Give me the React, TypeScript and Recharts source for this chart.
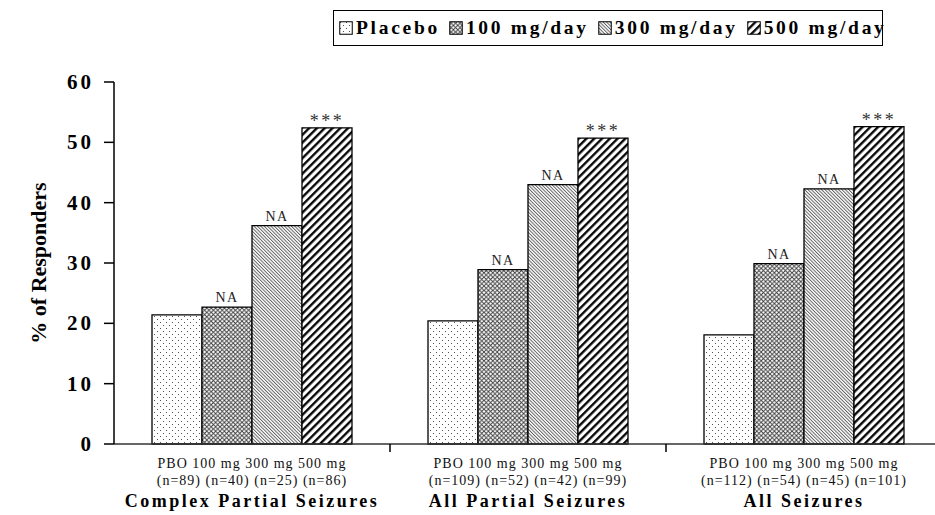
import React from 'react';
import { BarChart, Bar, XAxis, YAxis, LabelList } from 'recharts';

const categories = ['Complex Partial Seizures', 'All Partial Seizures', 'All Seizures'];
const doseLabels = ['PBO 100 mg 300 mg 500 mg', 'PBO 100 mg 300 mg 500 mg', 'PBO 100 mg 300 mg 500 mg'];
const sampleSizes = [
  '(n=89) (n=40) (n=25) (n=86)',
  '(n=109) (n=52) (n=42) (n=99)',
  '(n=112) (n=54) (n=45) (n=101)',
];
const placebo = [21.4, 20.4, 18.1];
const dose100 = [22.7, 28.9, 29.9];
const dose300 = [36.2, 43.0, 42.3];
const dose500 = [52.4, 50.7, 52.6];
const marks100 = ['NA', 'NA', 'NA'];
const marks300 = ['NA', 'NA', 'NA'];
const marks500 = ['***', '***', '***'];
const yTicks = [0, 10, 20, 30, 40, 50, 60];
const seriesNames = ['Placebo', '100 mg/day', '300 mg/day', '500 mg/day'];
const patternIds = ['pDots', 'pCross', 'pFine', 'pBold'];

const data = categories.map((c, i) => ({
  name: c,
  placebo: placebo[i],
  d100: dose100[i],
  d300: dose300[i],
  d500: dose500[i],
  m100: marks100[i],
  m300: marks300[i],
  m500: marks500[i],
}));

const serif = '"Liberation Serif", "Times New Roman", serif';

const Patterns = () => (
  <svg width={0} height={0} style={{ position: 'absolute' }}>
    <defs>
      <pattern id="pDots" width={6} height={6} patternUnits="userSpaceOnUse">
        <rect width={6} height={6} fill="#fff" />
        <rect x={1} y={1} width={1} height={1} fill="#555" />
        <rect x={4} y={4} width={1} height={1} fill="#555" />
      </pattern>
      <pattern id="pCross" width={4.4} height={4.4} patternUnits="userSpaceOnUse">
        <rect width={4.4} height={4.4} fill="#fff" />
        <path d="M0,0 L4.4,4.4 M4.4,0 L0,4.4" stroke="#3a3a3a" strokeWidth={0.9} />
      </pattern>
      <pattern id="pFine" width={2.4} height={2.4} patternUnits="userSpaceOnUse" patternTransform="rotate(-45)">
        <rect width={2.4} height={2.4} fill="#fff" />
        <line x1={0.5} y1={0} x2={0.5} y2={2.4} stroke="#555" strokeWidth={0.9} />
      </pattern>
      <pattern id="pBold" width={5.5} height={5.5} patternUnits="userSpaceOnUse" patternTransform="rotate(45)">
        <rect width={5.5} height={5.5} fill="#fff" />
        <line x1={1.2} y1={0} x2={1.2} y2={5.5} stroke="#000" strokeWidth={2.3} />
      </pattern>
    </defs>
  </svg>
);

const LegendBox = () => (
  <div
    style={{
      position: 'absolute',
      left: 333,
      top: 10,
      width: 550,
      height: 36,
      border: '1.5px solid #000',
      boxSizing: 'border-box',
      background: '#fff',
      display: 'flex',
      alignItems: 'center',
      paddingLeft: 5,
      gap: 9,
    }}
  >
    {seriesNames.map((n, i) => (
      <div key={n} style={{ display: 'flex', alignItems: 'center', whiteSpace: 'nowrap' }}>
        <svg width={14} height={14} style={{ marginRight: 3 }}>
          <rect x={0.75} y={0.75} width={12.5} height={12.5} fill={`url(#${patternIds[i]})`} stroke="#000" strokeWidth={1} />
        </svg>
        <span style={{ fontFamily: serif, fontWeight: 'bold', fontSize: 19.5, letterSpacing: 2.7, color: '#000' }}>{n}</span>
      </div>
    ))}
  </div>
);

const CategoryTick = (props: any) => {
  const { x, y, payload, index, width, visibleTicksCount } = props;
  const half = payload && payload.offset ? payload.offset : width / (2 * visibleTicksCount);
  return (
    <g>
      <line x1={x + half} x2={x + half} y1={y - 8} y2={y} stroke="#000" strokeWidth={1.5} />
      <text x={x} y={y + 16} textAnchor="middle" fontFamily={serif} fontSize={14} letterSpacing={1} fill="#111">
        {doseLabels[index]}
      </text>
      <text x={x} y={y + 33} textAnchor="middle" fontFamily={serif} fontSize={14} letterSpacing={1} fill="#111">
        {sampleSizes[index]}
      </text>
      <text x={x} y={y + 55} textAnchor="middle" fontFamily={serif} fontSize={18} fontWeight="bold" letterSpacing={2.5} fill="#000">
        {payload.value}
      </text>
    </g>
  );
};

const ValueTick = (props: any) => {
  const { x, y, payload } = props;
  return (
    <text x={x} y={y} dy={7} textAnchor="end" fontFamily={serif} fontSize={21} fontWeight="bold" letterSpacing={3} fill="#000">
      {payload.value}
    </text>
  );
};

const YTitle = (props: any) => {
  const { viewBox } = props;
  const cy = viewBox.y + viewBox.height / 2;
  return (
    <text
      x={38}
      y={cy}
      transform={`rotate(-90 38 ${cy})`}
      textAnchor="middle"
      dominantBaseline="central"
      fontFamily={serif}
      fontSize={22}
      fontWeight="bold"
      fill="#000"
    >
      % of Responders
    </text>
  );
};

const naStyle = { fontFamily: serif, fontSize: 14, fill: '#222', letterSpacing: 1.5 };
const starStyle = { fontFamily: serif, fontSize: 18, fill: '#333', letterSpacing: 2.5 };

export default function App() {
  return (
    <div style={{ position: 'absolute', left: 0, top: 0, width: 935, height: 515, overflow: 'hidden', background: '#fff' }}>
      <Patterns />
      <BarChart
        width={950}
        height={515}
        data={data}
        margin={{ top: 82, right: 8, bottom: 0, left: 0 }}
        barGap={0}
        barSize={50}
      >
        <XAxis
          dataKey="name"
          height={71}
          tickLine={false}
          tickSize={8}
          tickMargin={0}
          axisLine={{ stroke: '#333', strokeWidth: 1.5 }}
          tick={<CategoryTick />}
          interval={0}
        />
        <YAxis
          width={114}
          domain={[0, 60]}
          ticks={yTicks}
          tickSize={10}
          tickMargin={10}
          axisLine={{ stroke: '#000', strokeWidth: 1.5 }}
          tickLine={{ stroke: '#000', strokeWidth: 1.5 }}
          tick={<ValueTick />}
          label={{ content: <YTitle /> }}
        />
        <Bar dataKey="placebo" name={seriesNames[0]} fill="url(#pDots)" stroke="#000" strokeWidth={1.3} isAnimationActive={false} />
        <Bar dataKey="d100" name={seriesNames[1]} fill="url(#pCross)" stroke="#000" strokeWidth={1.3} isAnimationActive={false}>
          <LabelList dataKey="m100" position="top" offset={5} style={naStyle} />
        </Bar>
        <Bar dataKey="d300" name={seriesNames[2]} fill="url(#pFine)" stroke="#000" strokeWidth={1.3} isAnimationActive={false}>
          <LabelList dataKey="m300" position="top" offset={5} style={naStyle} />
        </Bar>
        <Bar dataKey="d500" name={seriesNames[3]} fill="url(#pBold)" stroke="#000" strokeWidth={1.3} isAnimationActive={false}>
          <LabelList dataKey="m500" position="top" offset={1} style={starStyle} />
        </Bar>
      </BarChart>
      <LegendBox />
    </div>
  );
}
